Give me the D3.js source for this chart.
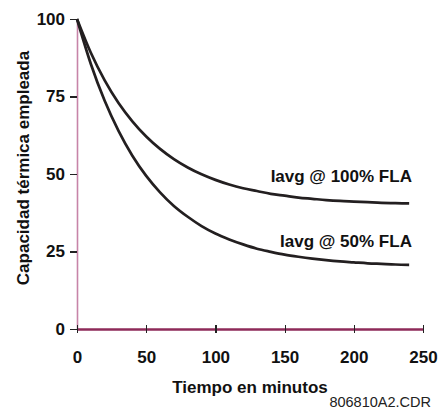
<!DOCTYPE html>
<html lang="es">
<head>
    <meta charset="UTF-8">
    <title>Capacidad térmica</title>
    <style>
    body {
        margin: 0;
        background: #fff;
    }
    svg text {
        font-family: "Liberation Sans", Arial, Helvetica, sans-serif;
        fill: #111;
    }
    .axis text {
        font-size: 17px;
        font-weight: bold;
    }
    .axis line {
        stroke: #222;
        stroke-width: 1.2;
        shape-rendering: crispEdges;
    }
    .curve {
        fill: none;
        stroke: #231f20;
        stroke-width: 2.7;
    }
    .bold {
        font-size: 17px;
        font-weight: bold;
    }
    </style>
</head>
<body>
<script src="https://cdn.jsdelivr.net/npm/d3@7/dist/d3.min.js"></script>
<script>
// tiempo en minutos
let minutes = [0, 10, 20, 30, 40, 50, 60, 70, 80, 90, 100, 110, 120, 130, 140, 150, 160, 170, 180, 190, 200, 210, 220, 230, 240];
// capacidad térmica (%) para cada corriente media
let full = [100, 89.1, 80.2, 72.9, 67.0, 62.1, 58.1, 54.8, 52.1, 49.9, 48.1, 46.6, 45.4, 44.5, 43.6, 43.0, 42.4, 42.0, 41.6, 41.3, 41.1, 40.9, 40.7, 40.6, 40.5];
let half = [100, 85.5, 73.6, 63.9, 55.9, 49.4, 44.1, 39.7, 36.2, 33.2, 30.8, 28.9, 27.3, 25.9, 24.9, 24.0, 23.3, 22.7, 22.2, 21.8, 21.5, 21.2, 21.0, 20.8, 20.7];
let seriesNames = ['Iavg @ 100% FLA', 'Iavg @ 50% FLA'];
let xTicks = [0, 50, 100, 150, 200, 250];
let yTicks = [0, 25, 50, 75, 100];

let width = 440, height = 409;

let svg = d3.select('body').append('svg')
    .attr('width', width)
    .attr('height', height);

let x = d3.scaleLinear().domain([0, 250]).range([77, 423]);
let y = d3.scaleLinear().domain([0, 100]).range([329, 19]);

// eje Y
let yAxis = svg.append('g')
    .attr('class', 'axis')
    .attr('transform', `translate(${x(0)}, 0)`)
    .call(d3.axisLeft(y).tickValues(yTicks).tickSize(7).tickSizeOuter(0).tickPadding(5));
yAxis.select('.domain')
    .attr('stroke', '#c784a8')
    .attr('stroke-width', 1.6);

// eje X
let xAxis = svg.append('g')
    .attr('class', 'axis')
    .attr('transform', `translate(0, ${y(0)})`)
    .call(d3.axisBottom(x).tickValues(xTicks).tickSizeOuter(0));
xAxis.select('.domain')
    .attr('stroke', '#8e2a58')
    .attr('stroke-width', 2.6);
xAxis.selectAll('.tick line')
    .attr('y1', -4)
    .attr('y2', 4);
xAxis.selectAll('.tick text')
    .attr('y', 22);

// curvas
let line = d3.line()
    .x((d, i) => x(minutes[i]))
    .y(d => y(d))
    .curve(d3.curveMonotoneX);

svg.selectAll('.curve')
    .data([full, half])
    .enter()
    .append('path')
    .attr('class', 'curve')
    .attr('d', d => line(d));

// etiquetas de las curvas
let labelPos = [[242, 47.4], [242, 26.5]];
svg.selectAll('.lbl')
    .data(seriesNames)
    .enter()
    .append('text')
    .attr('class', 'lbl bold')
    .attr('text-anchor', 'end')
    .attr('x', (d, i) => x(labelPos[i][0]))
    .attr('y', (d, i) => y(labelPos[i][1]))
    .text(d => d);

// títulos
svg.append('text')
    .attr('class', 'bold')
    .attr('text-anchor', 'middle')
    .attr('x', 250)
    .attr('y', 393)
    .text('Tiempo en minutos');

svg.append('text')
    .attr('class', 'bold')
    .attr('text-anchor', 'middle')
    .attr('transform', 'translate(29, 168) rotate(-90)')
    .text('Capacidad térmica empleada');

svg.append('text')
    .attr('text-anchor', 'end')
    .attr('x', 431)
    .attr('y', 407)
    .style('font-size', '14.5px')
    .style('fill', '#222')
    .text('806810A2.CDR');
</script>
</body>
</html>
